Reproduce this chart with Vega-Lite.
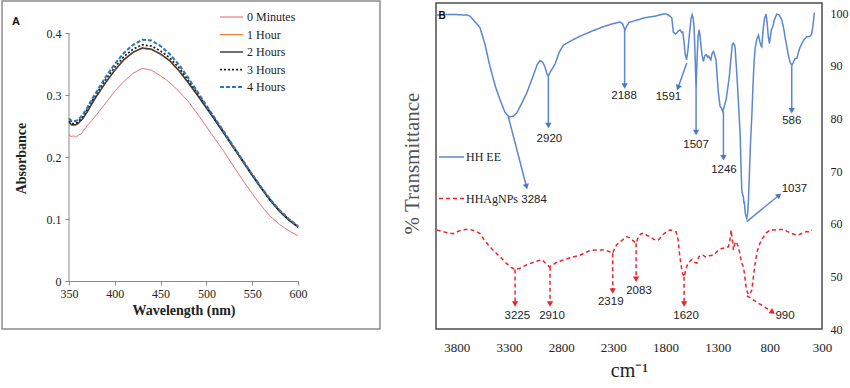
{
"$schema":"https://vega.github.io/schema/vega-lite/v6.json",
"padding":{"left":1,"top":0,"right":0,"bottom":0},
"background":"white",
"bounds":"flush",
"config":{"view":{"stroke":null},"axis":{"grid":false}},
"spacing":138,
"resolve":{"scale":{"color":"independent","strokeDash":"independent","strokeWidth":"independent"},"legend":{"color":"independent","strokeDash":"independent"}},
"datasets":{
"uv":[
{"s":"0 Minutes","w":350,"a":0.237},{"s":"0 Minutes","w":352,"a":0.233},{"s":"0 Minutes","w":355,"a":0.234},{"s":"0 Minutes","w":358,"a":0.232},{"s":"0 Minutes","w":361,"a":0.236},{"s":"0 Minutes","w":364,"a":0.238},{"s":"0 Minutes","w":366,"a":0.244},{"s":"0 Minutes","w":368,"a":0.246},{"s":"0 Minutes","w":370,"a":0.251},{"s":"0 Minutes","w":375,"a":0.259},{"s":"0 Minutes","w":380,"a":0.268},{"s":"0 Minutes","w":390,"a":0.287},{"s":"0 Minutes","w":400,"a":0.306},{"s":"0 Minutes","w":410,"a":0.322},{"s":"0 Minutes","w":420,"a":0.335},{"s":"0 Minutes","w":430,"a":0.343},{"s":"0 Minutes","w":440,"a":0.340},{"s":"0 Minutes","w":450,"a":0.331},{"s":"0 Minutes","w":460,"a":0.320},{"s":"0 Minutes","w":470,"a":0.306},{"s":"0 Minutes","w":480,"a":0.290},{"s":"0 Minutes","w":490,"a":0.270},{"s":"0 Minutes","w":500,"a":0.249},{"s":"0 Minutes","w":510,"a":0.228},{"s":"0 Minutes","w":520,"a":0.207},{"s":"0 Minutes","w":530,"a":0.184},{"s":"0 Minutes","w":540,"a":0.162},{"s":"0 Minutes","w":550,"a":0.141},{"s":"0 Minutes","w":560,"a":0.121},{"s":"0 Minutes","w":570,"a":0.104},{"s":"0 Minutes","w":580,"a":0.091},{"s":"0 Minutes","w":590,"a":0.081},{"s":"0 Minutes","w":600,"a":0.073},
{"s":"1 Hour","w":350,"a":0.255},{"s":"1 Hour","w":353,"a":0.251},{"s":"1 Hour","w":357,"a":0.251},{"s":"1 Hour","w":360,"a":0.254},{"s":"1 Hour","w":365,"a":0.262},{"s":"1 Hour","w":370,"a":0.273},{"s":"1 Hour","w":375,"a":0.286},{"s":"1 Hour","w":380,"a":0.298},{"s":"1 Hour","w":390,"a":0.320},{"s":"1 Hour","w":400,"a":0.340},{"s":"1 Hour","w":410,"a":0.357},{"s":"1 Hour","w":420,"a":0.369},{"s":"1 Hour","w":430,"a":0.375},{"s":"1 Hour","w":440,"a":0.373},{"s":"1 Hour","w":450,"a":0.366},{"s":"1 Hour","w":460,"a":0.356},{"s":"1 Hour","w":470,"a":0.340},{"s":"1 Hour","w":480,"a":0.321},{"s":"1 Hour","w":490,"a":0.301},{"s":"1 Hour","w":500,"a":0.281},{"s":"1 Hour","w":510,"a":0.260},{"s":"1 Hour","w":520,"a":0.238},{"s":"1 Hour","w":530,"a":0.216},{"s":"1 Hour","w":540,"a":0.194},{"s":"1 Hour","w":550,"a":0.172},{"s":"1 Hour","w":560,"a":0.151},{"s":"1 Hour","w":570,"a":0.131},{"s":"1 Hour","w":580,"a":0.114},{"s":"1 Hour","w":590,"a":0.100},{"s":"1 Hour","w":600,"a":0.089},
{"s":"2 Hours","w":350,"a":0.256},{"s":"2 Hours","w":353,"a":0.252},{"s":"2 Hours","w":357,"a":0.252},{"s":"2 Hours","w":360,"a":0.254},{"s":"2 Hours","w":365,"a":0.262},{"s":"2 Hours","w":370,"a":0.273},{"s":"2 Hours","w":375,"a":0.286},{"s":"2 Hours","w":380,"a":0.298},{"s":"2 Hours","w":390,"a":0.320},{"s":"2 Hours","w":400,"a":0.340},{"s":"2 Hours","w":410,"a":0.357},{"s":"2 Hours","w":420,"a":0.369},{"s":"2 Hours","w":430,"a":0.376},{"s":"2 Hours","w":440,"a":0.374},{"s":"2 Hours","w":450,"a":0.366},{"s":"2 Hours","w":460,"a":0.355},{"s":"2 Hours","w":470,"a":0.339},{"s":"2 Hours","w":480,"a":0.320},{"s":"2 Hours","w":490,"a":0.300},{"s":"2 Hours","w":500,"a":0.279},{"s":"2 Hours","w":510,"a":0.258},{"s":"2 Hours","w":520,"a":0.236},{"s":"2 Hours","w":530,"a":0.214},{"s":"2 Hours","w":540,"a":0.192},{"s":"2 Hours","w":550,"a":0.170},{"s":"2 Hours","w":560,"a":0.149},{"s":"2 Hours","w":570,"a":0.129},{"s":"2 Hours","w":580,"a":0.112},{"s":"2 Hours","w":590,"a":0.098},{"s":"2 Hours","w":600,"a":0.087},
{"s":"3 Hours","w":350,"a":0.258},{"s":"3 Hours","w":353,"a":0.254},{"s":"3 Hours","w":357,"a":0.254},{"s":"3 Hours","w":360,"a":0.257},{"s":"3 Hours","w":365,"a":0.265},{"s":"3 Hours","w":370,"a":0.277},{"s":"3 Hours","w":375,"a":0.290},{"s":"3 Hours","w":380,"a":0.302},{"s":"3 Hours","w":390,"a":0.325},{"s":"3 Hours","w":400,"a":0.345},{"s":"3 Hours","w":410,"a":0.362},{"s":"3 Hours","w":420,"a":0.374},{"s":"3 Hours","w":430,"a":0.381},{"s":"3 Hours","w":440,"a":0.379},{"s":"3 Hours","w":450,"a":0.371},{"s":"3 Hours","w":460,"a":0.360},{"s":"3 Hours","w":470,"a":0.344},{"s":"3 Hours","w":480,"a":0.324},{"s":"3 Hours","w":490,"a":0.303},{"s":"3 Hours","w":500,"a":0.281},{"s":"3 Hours","w":510,"a":0.259},{"s":"3 Hours","w":520,"a":0.237},{"s":"3 Hours","w":530,"a":0.215},{"s":"3 Hours","w":540,"a":0.193},{"s":"3 Hours","w":550,"a":0.171},{"s":"3 Hours","w":560,"a":0.150},{"s":"3 Hours","w":570,"a":0.130},{"s":"3 Hours","w":580,"a":0.113},{"s":"3 Hours","w":590,"a":0.099},{"s":"3 Hours","w":600,"a":0.087},
{"s":"4 Hours","w":350,"a":0.262},{"s":"4 Hours","w":353,"a":0.258},{"s":"4 Hours","w":357,"a":0.258},{"s":"4 Hours","w":360,"a":0.260},{"s":"4 Hours","w":365,"a":0.268},{"s":"4 Hours","w":370,"a":0.280},{"s":"4 Hours","w":375,"a":0.293},{"s":"4 Hours","w":380,"a":0.305},{"s":"4 Hours","w":390,"a":0.329},{"s":"4 Hours","w":400,"a":0.350},{"s":"4 Hours","w":410,"a":0.368},{"s":"4 Hours","w":420,"a":0.381},{"s":"4 Hours","w":430,"a":0.389},{"s":"4 Hours","w":440,"a":0.388},{"s":"4 Hours","w":450,"a":0.379},{"s":"4 Hours","w":460,"a":0.366},{"s":"4 Hours","w":470,"a":0.349},{"s":"4 Hours","w":480,"a":0.328},{"s":"4 Hours","w":490,"a":0.306},{"s":"4 Hours","w":500,"a":0.283},{"s":"4 Hours","w":510,"a":0.261},{"s":"4 Hours","w":520,"a":0.239},{"s":"4 Hours","w":530,"a":0.216},{"s":"4 Hours","w":540,"a":0.194},{"s":"4 Hours","w":550,"a":0.172},{"s":"4 Hours","w":560,"a":0.151},{"s":"4 Hours","w":570,"a":0.131},{"s":"4 Hours","w":580,"a":0.114},{"s":"4 Hours","w":590,"a":0.100},{"s":"4 Hours","w":600,"a":0.088}
],
"ftir":[
{"s":"HH EE","wn":3993,"t":99.6},{"s":"HH EE","wn":3900,"t":99.7},{"s":"HH EE","wn":3800,"t":99.7},{"s":"HH EE","wn":3700,"t":99.6},{"s":"HH EE","wn":3674,"t":99.4},{"s":"HH EE","wn":3620,"t":98.2},{"s":"HH EE","wn":3578,"t":97.2},{"s":"HH EE","wn":3530,"t":94.0},{"s":"HH EE","wn":3482,"t":89.8},{"s":"HH EE","wn":3430,"t":86.0},{"s":"HH EE","wn":3386,"t":83.5},{"s":"HH EE","wn":3340,"t":81.2},{"s":"HH EE","wn":3300,"t":80.3},{"s":"HH EE","wn":3260,"t":80.4},{"s":"HH EE","wn":3226,"t":81.0},{"s":"HH EE","wn":3180,"t":82.8},{"s":"HH EE","wn":3130,"t":84.8},{"s":"HH EE","wn":3070,"t":88.0},{"s":"HH EE","wn":3030,"t":90.2},{"s":"HH EE","wn":3003,"t":91.0},{"s":"HH EE","wn":2975,"t":90.6},{"s":"HH EE","wn":2955,"t":89.7},{"s":"HH EE","wn":2935,"t":88.4},{"s":"HH EE","wn":2923,"t":88.0},{"s":"HH EE","wn":2905,"t":88.8},{"s":"HH EE","wn":2880,"t":89.6},{"s":"HH EE","wn":2859,"t":90.3},{"s":"HH EE","wn":2820,"t":92.5},{"s":"HH EE","wn":2779,"t":93.9},{"s":"HH EE","wn":2700,"t":94.8},{"s":"HH EE","wn":2619,"t":95.6},{"s":"HH EE","wn":2500,"t":96.6},{"s":"HH EE","wn":2396,"t":97.4},{"s":"HH EE","wn":2300,"t":98.0},{"s":"HH EE","wn":2236,"t":98.3},{"s":"HH EE","wn":2210,"t":97.9},{"s":"HH EE","wn":2195,"t":97.0},{"s":"HH EE","wn":2188,"t":96.8},{"s":"HH EE","wn":2175,"t":97.4},{"s":"HH EE","wn":2150,"t":98.2},{"s":"HH EE","wn":2100,"t":98.5},{"s":"HH EE","wn":2000,"t":99.1},{"s":"HH EE","wn":1900,"t":99.4},{"s":"HH EE","wn":1820,"t":99.8},{"s":"HH EE","wn":1790,"t":99.8},{"s":"HH EE","wn":1763,"t":99.5},{"s":"HH EE","wn":1740,"t":99.1},{"s":"HH EE","wn":1725,"t":96.4},{"s":"HH EE","wn":1705,"t":96.0},{"s":"HH EE","wn":1692,"t":96.2},{"s":"HH EE","wn":1675,"t":96.6},{"s":"HH EE","wn":1660,"t":96.8},{"s":"HH EE","wn":1645,"t":96.3},{"s":"HH EE","wn":1635,"t":96.4},{"s":"HH EE","wn":1622,"t":94.5},{"s":"HH EE","wn":1612,"t":92.3},{"s":"HH EE","wn":1598,"t":91.1},{"s":"HH EE","wn":1585,"t":93.0},{"s":"HH EE","wn":1570,"t":96.1},{"s":"HH EE","wn":1555,"t":99.0},{"s":"HH EE","wn":1545,"t":99.7},{"s":"HH EE","wn":1535,"t":99.0},{"s":"HH EE","wn":1526,"t":97.3},{"s":"HH EE","wn":1515,"t":91.0},{"s":"HH EE","wn":1507,"t":85.5},{"s":"HH EE","wn":1498,"t":91.0},{"s":"HH EE","wn":1488,"t":95.5},{"s":"HH EE","wn":1478,"t":96.8},{"s":"HH EE","wn":1470,"t":95.8},{"s":"HH EE","wn":1462,"t":94.2},{"s":"HH EE","wn":1450,"t":92.0},{"s":"HH EE","wn":1437,"t":90.8},{"s":"HH EE","wn":1425,"t":91.8},{"s":"HH EE","wn":1411,"t":92.1},{"s":"HH EE","wn":1395,"t":91.6},{"s":"HH EE","wn":1386,"t":91.8},{"s":"HH EE","wn":1375,"t":91.4},{"s":"HH EE","wn":1366,"t":91.1},{"s":"HH EE","wn":1355,"t":92.2},{"s":"HH EE","wn":1341,"t":92.7},{"s":"HH EE","wn":1328,"t":92.0},{"s":"HH EE","wn":1315,"t":91.0},{"s":"HH EE","wn":1305,"t":88.0},{"s":"HH EE","wn":1293,"t":84.8},{"s":"HH EE","wn":1277,"t":82.3},{"s":"HH EE","wn":1265,"t":82.0},{"s":"HH EE","wn":1251,"t":81.3},{"s":"HH EE","wn":1235,"t":82.4},{"s":"HH EE","wn":1219,"t":83.6},{"s":"HH EE","wn":1205,"t":85.5},{"s":"HH EE","wn":1188,"t":88.0},{"s":"HH EE","wn":1170,"t":92.0},{"s":"HH EE","wn":1160,"t":94.0},{"s":"HH EE","wn":1150,"t":94.3},{"s":"HH EE","wn":1140,"t":94.0},{"s":"HH EE","wn":1133,"t":93.4},{"s":"HH EE","wn":1120,"t":89.5},{"s":"HH EE","wn":1111,"t":86.6},{"s":"HH EE","wn":1100,"t":82.5},{"s":"HH EE","wn":1085,"t":77.2},{"s":"HH EE","wn":1075,"t":70.0},{"s":"HH EE","wn":1069,"t":66.4},{"s":"HH EE","wn":1060,"t":65.4},{"s":"HH EE","wn":1053,"t":65.1},{"s":"HH EE","wn":1048,"t":63.8},{"s":"HH EE","wn":1044,"t":64.2},{"s":"HH EE","wn":1037,"t":62.2},{"s":"HH EE","wn":1030,"t":61.5},{"s":"HH EE","wn":1021,"t":61.0},{"s":"HH EE","wn":1012,"t":62.0},{"s":"HH EE","wn":1005,"t":64.5},{"s":"HH EE","wn":995,"t":70.0},{"s":"HH EE","wn":985,"t":75.5},{"s":"HH EE","wn":973,"t":80.3},{"s":"HH EE","wn":960,"t":87.0},{"s":"HH EE","wn":950,"t":91.0},{"s":"HH EE","wn":941,"t":93.3},{"s":"HH EE","wn":925,"t":95.0},{"s":"HH EE","wn":909,"t":95.8},{"s":"HH EE","wn":895,"t":94.5},{"s":"HH EE","wn":885,"t":93.8},{"s":"HH EE","wn":877,"t":93.6},{"s":"HH EE","wn":870,"t":95.5},{"s":"HH EE","wn":861,"t":97.4},{"s":"HH EE","wn":850,"t":99.0},{"s":"HH EE","wn":836,"t":99.8},{"s":"HH EE","wn":825,"t":98.0},{"s":"HH EE","wn":815,"t":95.5},{"s":"HH EE","wn":804,"t":94.2},{"s":"HH EE","wn":795,"t":95.5},{"s":"HH EE","wn":785,"t":96.8},{"s":"HH EE","wn":771,"t":97.5},{"s":"HH EE","wn":755,"t":98.8},{"s":"HH EE","wn":733,"t":99.8},{"s":"HH EE","wn":710,"t":99.6},{"s":"HH EE","wn":685,"t":98.7},{"s":"HH EE","wn":665,"t":96.8},{"s":"HH EE","wn":650,"t":95.0},{"s":"HH EE","wn":637,"t":93.6},{"s":"HH EE","wn":620,"t":91.8},{"s":"HH EE","wn":605,"t":90.6},{"s":"HH EE","wn":589,"t":90.1},{"s":"HH EE","wn":575,"t":90.6},{"s":"HH EE","wn":560,"t":91.3},{"s":"HH EE","wn":541,"t":91.4},{"s":"HH EE","wn":525,"t":92.6},{"s":"HH EE","wn":510,"t":93.5},{"s":"HH EE","wn":493,"t":94.2},{"s":"HH EE","wn":470,"t":95.0},{"s":"HH EE","wn":445,"t":95.5},{"s":"HH EE","wn":430,"t":95.5},{"s":"HH EE","wn":414,"t":95.6},{"s":"HH EE","wn":400,"t":96.0},{"s":"HH EE","wn":388,"t":97.4},{"s":"HH EE","wn":380,"t":98.8},{"s":"HH EE","wn":373,"t":100.1},
{"s":"HHAgNPs","wn":3993,"t":58.8},{"s":"HHAgNPs","wn":3950,"t":58.6},{"s":"HHAgNPs","wn":3900,"t":58.3},{"s":"HHAgNPs","wn":3834,"t":58.1},{"s":"HHAgNPs","wn":3780,"t":58.6},{"s":"HHAgNPs","wn":3720,"t":58.9},{"s":"HHAgNPs","wn":3674,"t":58.9},{"s":"HHAgNPs","wn":3620,"t":58.6},{"s":"HHAgNPs","wn":3578,"t":58.1},{"s":"HHAgNPs","wn":3540,"t":57.0},{"s":"HHAgNPs","wn":3500,"t":56.0},{"s":"HHAgNPs","wn":3460,"t":55.1},{"s":"HHAgNPs","wn":3418,"t":54.3},{"s":"HHAgNPs","wn":3370,"t":53.4},{"s":"HHAgNPs","wn":3322,"t":52.4},{"s":"HHAgNPs","wn":3280,"t":51.7},{"s":"HHAgNPs","wn":3242,"t":51.3},{"s":"HHAgNPs","wn":3200,"t":51.5},{"s":"HHAgNPs","wn":3160,"t":51.9},{"s":"HHAgNPs","wn":3130,"t":52.2},{"s":"HHAgNPs","wn":3060,"t":52.7},{"s":"HHAgNPs","wn":2986,"t":53.2},{"s":"HHAgNPs","wn":2950,"t":52.5},{"s":"HHAgNPs","wn":2913,"t":51.8},{"s":"HHAgNPs","wn":2880,"t":52.2},{"s":"HHAgNPs","wn":2840,"t":52.7},{"s":"HHAgNPs","wn":2779,"t":53.1},{"s":"HHAgNPs","wn":2700,"t":53.6},{"s":"HHAgNPs","wn":2619,"t":54.0},{"s":"HHAgNPs","wn":2570,"t":54.5},{"s":"HHAgNPs","wn":2523,"t":54.9},{"s":"HHAgNPs","wn":2460,"t":55.0},{"s":"HHAgNPs","wn":2396,"t":55.0},{"s":"HHAgNPs","wn":2340,"t":54.7},{"s":"HHAgNPs","wn":2306,"t":54.4},{"s":"HHAgNPs","wn":2290,"t":55.2},{"s":"HHAgNPs","wn":2268,"t":56.0},{"s":"HHAgNPs","wn":2220,"t":56.8},{"s":"HHAgNPs","wn":2172,"t":57.5},{"s":"HHAgNPs","wn":2140,"t":57.3},{"s":"HHAgNPs","wn":2124,"t":57.0},{"s":"HHAgNPs","wn":2100,"t":56.6},{"s":"HHAgNPs","wn":2082,"t":56.3},{"s":"HHAgNPs","wn":2060,"t":57.5},{"s":"HHAgNPs","wn":2040,"t":58.0},{"s":"HHAgNPs","wn":2012,"t":58.2},{"s":"HHAgNPs","wn":1980,"t":57.8},{"s":"HHAgNPs","wn":1948,"t":57.5},{"s":"HHAgNPs","wn":1910,"t":57.0},{"s":"HHAgNPs","wn":1868,"t":56.9},{"s":"HHAgNPs","wn":1830,"t":57.8},{"s":"HHAgNPs","wn":1790,"t":58.5},{"s":"HHAgNPs","wn":1756,"t":58.8},{"s":"HHAgNPs","wn":1720,"t":58.6},{"s":"HHAgNPs","wn":1699,"t":58.5},{"s":"HHAgNPs","wn":1680,"t":57.0},{"s":"HHAgNPs","wn":1667,"t":54.5},{"s":"HHAgNPs","wn":1650,"t":52.0},{"s":"HHAgNPs","wn":1635,"t":50.5},{"s":"HHAgNPs","wn":1622,"t":49.9},{"s":"HHAgNPs","wn":1610,"t":50.8},{"s":"HHAgNPs","wn":1595,"t":52.0},{"s":"HHAgNPs","wn":1580,"t":52.5},{"s":"HHAgNPs","wn":1560,"t":53.0},{"s":"HHAgNPs","wn":1545,"t":53.2},{"s":"HHAgNPs","wn":1532,"t":53.0},{"s":"HHAgNPs","wn":1515,"t":52.6},{"s":"HHAgNPs","wn":1500,"t":52.5},{"s":"HHAgNPs","wn":1485,"t":53.5},{"s":"HHAgNPs","wn":1468,"t":54.0},{"s":"HHAgNPs","wn":1440,"t":54.0},{"s":"HHAgNPs","wn":1420,"t":53.7},{"s":"HHAgNPs","wn":1404,"t":53.7},{"s":"HHAgNPs","wn":1380,"t":53.9},{"s":"HHAgNPs","wn":1341,"t":54.0},{"s":"HHAgNPs","wn":1300,"t":54.8},{"s":"HHAgNPs","wn":1261,"t":55.3},{"s":"HHAgNPs","wn":1230,"t":55.4},{"s":"HHAgNPs","wn":1197,"t":55.6},{"s":"HHAgNPs","wn":1185,"t":56.5},{"s":"HHAgNPs","wn":1171,"t":58.8},{"s":"HHAgNPs","wn":1160,"t":57.0},{"s":"HHAgNPs","wn":1149,"t":55.0},{"s":"HHAgNPs","wn":1135,"t":56.3},{"s":"HHAgNPs","wn":1123,"t":56.6},{"s":"HHAgNPs","wn":1110,"t":56.0},{"s":"HHAgNPs","wn":1101,"t":55.6},{"s":"HHAgNPs","wn":1085,"t":54.0},{"s":"HHAgNPs","wn":1070,"t":52.5},{"s":"HHAgNPs","wn":1053,"t":51.8},{"s":"HHAgNPs","wn":1040,"t":50.0},{"s":"HHAgNPs","wn":1025,"t":47.5},{"s":"HHAgNPs","wn":1005,"t":46.5},{"s":"HHAgNPs","wn":990,"t":46.7},{"s":"HHAgNPs","wn":973,"t":47.4},{"s":"HHAgNPs","wn":960,"t":49.5},{"s":"HHAgNPs","wn":941,"t":52.5},{"s":"HHAgNPs","wn":920,"t":54.8},{"s":"HHAgNPs","wn":900,"t":56.0},{"s":"HHAgNPs","wn":880,"t":57.0},{"s":"HHAgNPs","wn":861,"t":57.5},{"s":"HHAgNPs","wn":830,"t":58.3},{"s":"HHAgNPs","wn":797,"t":58.8},{"s":"HHAgNPs","wn":740,"t":58.8},{"s":"HHAgNPs","wn":700,"t":58.9},{"s":"HHAgNPs","wn":670,"t":58.9},{"s":"HHAgNPs","wn":630,"t":58.5},{"s":"HHAgNPs","wn":600,"t":58.2},{"s":"HHAgNPs","wn":570,"t":58.0},{"s":"HHAgNPs","wn":541,"t":57.8},{"s":"HHAgNPs","wn":510,"t":58.0},{"s":"HHAgNPs","wn":480,"t":58.3},{"s":"HHAgNPs","wn":445,"t":58.5},{"s":"HHAgNPs","wn":420,"t":58.4},{"s":"HHAgNPs","wn":397,"t":58.8}
],
"arrows":[
{"c":"b","wn":3307,"t":80.3,"wn2":3135,"t2":67.2,"ang":165.6},
{"c":"b","wn":2923,"t":88.0,"wn2":2923,"t2":78.8,"ang":180},
{"c":"b","wn":2192,"t":96.8,"wn2":2192,"t2":86.3,"ang":180},
{"c":"b","wn":1596,"t":90.5,"wn2":1677,"t2":86.0,"ang":201},
{"c":"b","wn":1507,"t":85.5,"wn2":1507,"t2":77.5,"ang":180},
{"c":"b","wn":1245,"t":81.3,"wn2":1245,"t2":72.7,"ang":180},
{"c":"b","wn":1021,"t":60.4,"wn2":718,"t2":65.3,"ang":51},
{"c":"b","wn":590,"t":90.1,"wn2":590,"t2":81.6,"ang":180},
{"c":"r","wn":3242,"t":51.3,"wn2":3242,"t2":44.9,"ang":180},
{"c":"r","wn":2907,"t":51.8,"wn2":2907,"t2":44.9,"ang":180},
{"c":"r","wn":2306,"t":54.4,"wn2":2306,"t2":47.4,"ang":180},
{"c":"r","wn":2082,"t":56.3,"wn2":2082,"t2":49.6,"ang":180},
{"c":"r","wn":1622,"t":49.9,"wn2":1622,"t2":44.9,"ang":180},
{"c":"r","wn":1020,"t":46.3,"wn2":781,"t2":43.3,"ang":123.5}
],
"labels":[
{"wn":3060,"t":64.5,"lab":"3284"},{"wn":2913,"t":76.0,"lab":"2920"},{"wn":2197,"t":84.3,"lab":"2188"},{"wn":1772,"t":84.0,"lab":"1591"},{"wn":1507,"t":74.9,"lab":"1507"},{"wn":1240,"t":70.1,"lab":"1246"},{"wn":564,"t":66.5,"lab":"1037"},{"wn":590,"t":79.4,"lab":"586"},
{"wn":3220,"t":42.5,"lab":"3225"},{"wn":2888,"t":42.5,"lab":"2910"},{"wn":2325,"t":45.2,"lab":"2319"},{"wn":2054,"t":47.2,"lab":"2083"},{"wn":1603,"t":42.5,"lab":"1620"},{"wn":654,"t":42.5,"lab":"990"}
]
},
"hconcat":[
{
"width":229,"height":278,
"layer":[
{"data":{"values":[{"x1":276.9,"x2":689.5,"y1":-0.0774,"y2":0.4516}]},
 "mark":{"type":"rect","fillOpacity":0,"stroke":"#8c8c8c","strokeWidth":1.5,"clip":false},
 "encoding":{"x":{"field":"x1","type":"quantitative"},"x2":{"field":"x2"},"y":{"field":"y1","type":"quantitative"},"y2":{"field":"y2"}}},
{"data":{"values":[{"x":350,"y1":0,"y2":0.4}]},
 "mark":{"type":"rule","color":"#888","strokeWidth":1},
 "encoding":{"x":{"field":"x","type":"quantitative"},"y":{"field":"y1","type":"quantitative"},"y2":{"field":"y2"}}},
{"data":{"name":"uv"},
 "mark":{"type":"line"},
 "encoding":{
  "x":{"field":"w","type":"quantitative","scale":{"domain":[350,600],"nice":false,"zero":false},
   "axis":{"values":[350,400,450,500,550,600],"tickSize":4,"tickColor":"#888","domainColor":"#888","labelFont":"Liberation Serif","labelFontSize":12,"labelColor":"#222","labelPadding":3,"labelFlush":false,"title":"Wavelength (nm)","titleFont":"Liberation Serif","titleFontSize":14,"titleFontWeight":"bold","titleColor":"#222","titlePadding":4}},
  "y":{"field":"a","type":"quantitative","scale":{"domain":[0,0.44839],"nice":false,"zero":false},
   "axis":{"values":[0,0.1,0.2,0.3,0.4],"format":"~g","domain":false,"tickSize":4,"tickColor":"#888","labelFont":"Liberation Serif","labelFontSize":12,"labelColor":"#222","labelPadding":4,"title":"Absorbance","titleFont":"Liberation Serif","titleFontSize":14,"titleFontWeight":"bold","titleColor":"#222","titlePadding":18,"titleY":155,"titleAlign":"center"}},
  "color":{"field":"s","type":"nominal","scale":{"domain":["0 Minutes","1 Hour","2 Hours","3 Hours","4 Hours"],"range":["#e2606a","#ed7d31","#404040","#222222","#2e75b6"]},
   "legend":{"orient":"none","legendX":150,"legendY":8,"title":null,"symbolType":"stroke","symbolSize":529,"symbolStrokeWidth":1.5,"clipHeight":12,"rowPadding":5.5,"labelFont":"Liberation Serif","labelFontSize":12,"labelColor":"#222","labelOffset":3,"padding":0}},
  "strokeDash":{"field":"s","type":"nominal","scale":{"domain":["0 Minutes","1 Hour","2 Hours","3 Hours","4 Hours"],"range":[[1,0],[1,0],[1,0],[2,2],[4,2]]},
   "legend":{"orient":"none","legendX":150,"legendY":8,"title":null,"symbolType":"stroke","symbolSize":529,"symbolStrokeWidth":1.5,"clipHeight":12,"rowPadding":5.5,"labelFont":"Liberation Serif","labelFontSize":12,"labelColor":"#222","labelOffset":3,"padding":0}},
  "strokeWidth":{"field":"s","type":"nominal","scale":{"domain":["0 Minutes","1 Hour","2 Hours","3 Hours","4 Hours"],"range":[1,2,1.6,1.1,1.3]},"legend":null}
 }},
{"data":{"values":[{"x":292,"y":0.418,"t":"A"}]},
 "mark":{"type":"text","font":"Liberation Sans","fontSize":11,"fontWeight":"bold","color":"#111","clip":false},
 "encoding":{"x":{"field":"x","type":"quantitative"},"y":{"field":"y","type":"quantitative"},"text":{"field":"t"}}}
]
},
{
"width":386,"height":326,
"view":{"stroke":"#4d4d4d","strokeWidth":1.5},
"layer":[
{"data":{"name":"ftir"},
 "mark":{"type":"line","strokeWidth":1.5},
 "encoding":{
  "x":{"field":"wn","type":"quantitative","scale":{"domain":[300,4000],"reverse":true,"nice":false,"zero":false},
   "axis":{"values":[3800,3300,2800,2300,1800,1300,800,300],"format":"d","ticks":false,"domain":false,"labelFont":"Liberation Serif","labelFontSize":13,"labelColor":"#222","labelPadding":12,"labelFlush":false,"title":"cm⁻¹","titleFont":"Liberation Serif","titleFontSize":20,"titleFontWeight":"normal","titleColor":"#222","titlePadding":6}},
  "y":{"field":"t","type":"quantitative","scale":{"domain":[40,101.9],"nice":false,"zero":false},
   "axis":{"orient":"right","values":[40,50,60,70,80,90,100],"ticks":false,"domain":false,"labelFont":"Liberation Serif","labelFontSize":12,"labelColor":"#222","labelPadding":8,"title":"% Transmittance","titleAngle":270,"titleX":-410,"titleY":160,"titleAlign":"center","titleBaseline":"middle","titleFont":"Liberation Serif","titleFontSize":21,"titleFontWeight":"normal","titleColor":"#555"}},
  "color":{"field":"s","type":"nominal","scale":{"domain":["HH EE","HHAgNPs"],"range":["#5b87d1","#e8262c"]},
   "legend":{"orient":"none","legendX":2,"legendY":148,"title":null,"symbolType":"stroke","symbolSize":625,"symbolStrokeWidth":1.5,"clipHeight":12,"rowPadding":29.6,"labelFont":"Liberation Serif","labelFontSize":12,"labelColor":"#222","labelOffset":1,"padding":0}},
  "strokeDash":{"field":"s","type":"nominal","scale":{"domain":["HH EE","HHAgNPs"],"range":[[1,0],[4,3]]},
   "legend":{"orient":"none","legendX":2,"legendY":148,"title":null,"symbolType":"stroke","symbolSize":625,"symbolStrokeWidth":1.5,"clipHeight":12,"rowPadding":29.6,"labelFont":"Liberation Serif","labelFontSize":12,"labelColor":"#222","labelOffset":1,"padding":0}}
 }},
{"data":{"name":"arrows"},"transform":[{"filter":"datum.c == 'b'"}],
 "mark":{"type":"rule","color":"#5b87d1","strokeWidth":1.5},
 "encoding":{"x":{"field":"wn","type":"quantitative"},"y":{"field":"t","type":"quantitative"},"x2":{"field":"wn2"},"y2":{"field":"t2"}}},
{"data":{"name":"arrows"},"transform":[{"filter":"datum.c == 'r'"}],
 "mark":{"type":"rule","color":"#e8262c","strokeWidth":1.5,"strokeDash":[4,3]},
 "encoding":{"x":{"field":"wn","type":"quantitative"},"y":{"field":"t","type":"quantitative"},"x2":{"field":"wn2"},"y2":{"field":"t2"}}},
{"data":{"name":"arrows"},"transform":[{"filter":"datum.c == 'b'"}],
 "mark":{"type":"point","shape":"triangle","filled":true,"size":40,"color":"#4a78c8","opacity":1},
 "encoding":{"x":{"field":"wn2","type":"quantitative"},"y":{"field":"t2","type":"quantitative"},"angle":{"field":"ang","type":"quantitative","scale":null}}},
{"data":{"name":"arrows"},"transform":[{"filter":"datum.c == 'r'"}],
 "mark":{"type":"point","shape":"triangle","filled":true,"size":40,"color":"#e8262c","opacity":1},
 "encoding":{"x":{"field":"wn2","type":"quantitative"},"y":{"field":"t2","type":"quantitative"},"angle":{"field":"ang","type":"quantitative","scale":null}}},
{"data":{"name":"labels"},
 "mark":{"type":"text","font":"Liberation Sans Narrow, Liberation Sans, sans-serif","fontSize":11.5,"color":"#222","align":"center","baseline":"middle"},
 "encoding":{"x":{"field":"wn","type":"quantitative"},"y":{"field":"t","type":"quantitative"},"text":{"field":"lab"}}},
{"data":{"values":[{"wn":3942,"t":99.4,"lab":"B"}]},
 "mark":{"type":"text","font":"Liberation Sans","fontSize":10,"fontWeight":"bold","color":"#111","align":"center","baseline":"middle"},
 "encoding":{"x":{"field":"wn","type":"quantitative"},"y":{"field":"t","type":"quantitative"},"text":{"field":"lab"}}}
]
}
]
}
